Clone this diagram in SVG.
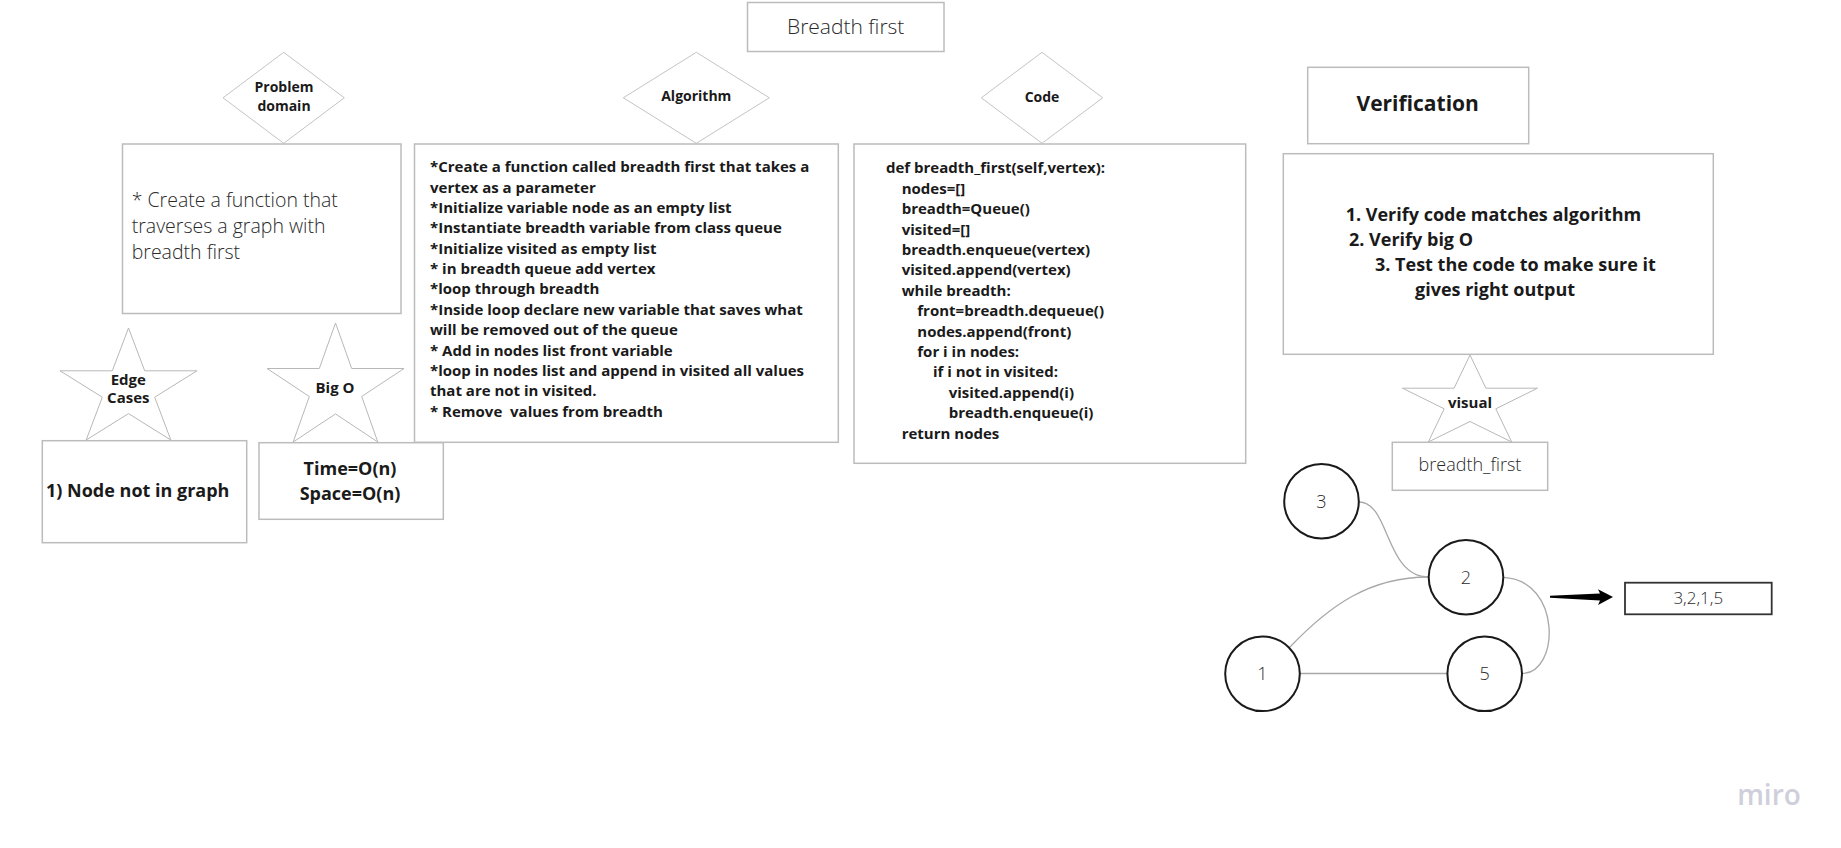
<svg xmlns="http://www.w3.org/2000/svg" width="1841" height="848" viewBox="0 0 1841 848">
<style>
  text { font-family: "Open Sans", "Noto Sans", "Liberation Sans", sans-serif; fill: #1a1a1a; }
  .box { fill: #ffffff; stroke: #bcbcbc; stroke-width: 1.5; }
  .dia { fill: #ffffff; stroke: #c4c4c4; stroke-width: 1; }
  .star { fill: #ffffff; stroke: #b8b8b8; stroke-width: 1; }
  .lbl { font-size: 14px; font-weight: 700; text-anchor: middle; }
  .slbl { font-size: 15px; font-weight: 700; text-anchor: middle; }
  .body { font-size: 15px; font-weight: 700; white-space: pre; }
  .big { font-size: 18px; font-weight: 700; }
  .light { font-weight: 300; fill: #2a2a2a; }
  .circ { fill: #ffffff; stroke: #1a1a1a; stroke-width: 2; }
  .num { font-size: 18px; font-weight: 300; fill: #2a2a2a; text-anchor: middle; }
  .edge { fill: none; stroke: #a8a8a8; stroke-width: 1.3; }
</style>
<rect width="1841" height="848" fill="#ffffff"/>

<g id="title">
  <rect class="box" x="747.5" y="2.5" width="196.5" height="49"/>
  <text class="light" x="845.7" y="33.5" font-size="21" text-anchor="middle">Breadth first</text>
</g>

<g id="problem-domain-label">
  <polygon class="dia" points="283.7,52.3 344.3,97.8 283.7,143.3 223,97.8"/>
  <text class="lbl" x="284" y="91.7">Problem</text>
  <text class="lbl" x="284" y="110.7">domain</text>
</g>
<g id="problem-domain">
  <rect class="box" x="122.5" y="144" width="278.5" height="169.5"/>
  <text class="light" font-size="19.5" x="131.7" y="207.3">* Create a function that</text>
  <text class="light" font-size="19.5" x="131.7" y="233.3">traverses a graph with</text>
  <text class="light" font-size="19.5" x="131.7" y="258.8">breadth first</text>
</g>

<g id="algorithm-label">
  <polygon class="dia" points="696.3,52.3 769.3,97.8 696.3,143.3 623.3,97.8"/>
  <text class="lbl" x="696.3" y="101">Algorithm</text>
</g>
<g id="algorithm">
  <rect class="box" x="414.5" y="144" width="423.8" height="298.3"/>
  <g class="body">
    <text x="430" y="172.3">*Create a function called breadth first that takes a</text>
    <text x="430" y="192.7">vertex as a parameter</text>
    <text x="430" y="213">*Initialize variable node as an empty list</text>
    <text x="430" y="233.4">*Instantiate breadth variable from class queue</text>
    <text x="430" y="253.7">*Initialize visited as empty list</text>
    <text x="430" y="274.1">* in breadth queue add vertex</text>
    <text x="430" y="294.4">*loop through breadth</text>
    <text x="430" y="314.8">*Inside loop declare new variable that saves what</text>
    <text x="430" y="335.1">will be removed out of the queue</text>
    <text x="430" y="355.5">* Add in nodes list front variable</text>
    <text x="430" y="375.8">*loop in nodes list and append in visited all values</text>
    <text x="430" y="396.2">that are not in visited.</text>
    <text x="430" y="416.6" style="white-space:pre">* Remove  values from breadth</text>
  </g>
</g>

<g id="code-label">
  <polygon class="dia" points="1042,52.3 1102.7,97.8 1042,143.3 981.3,97.8"/>
  <text class="lbl" x="1042" y="102">Code</text>
</g>
<g id="code">
  <rect class="box" x="854" y="144" width="391.7" height="319.3"/>
  <g class="body">
    <text x="886" y="173.3">def breadth_first(self,vertex):</text>
    <text x="901.7" y="193.7">nodes=[]</text>
    <text x="901.7" y="214.1">breadth=Queue()</text>
    <text x="901.7" y="234.5">visited=[]</text>
    <text x="901.7" y="254.9">breadth.enqueue(vertex)</text>
    <text x="901.7" y="275.3">visited.append(vertex)</text>
    <text x="901.7" y="295.7">while breadth:</text>
    <text x="917.3" y="316.1">front=breadth.dequeue()</text>
    <text x="917.3" y="336.5">nodes.append(front)</text>
    <text x="917.3" y="356.9">for i in nodes:</text>
    <text x="933" y="377.3">if i not in visited:</text>
    <text x="948.7" y="397.7">visited.append(i)</text>
    <text x="948.7" y="418.1">breadth.enqueue(i)</text>
    <text x="901.7" y="438.5">return nodes</text>
  </g>
</g>

<g id="verification-label">
  <rect class="box" x="1307.7" y="67.3" width="221" height="76.4"/>
  <text x="1417.7" y="111" font-size="21" font-weight="700" text-anchor="middle">Verification</text>
</g>
<g id="verification">
  <rect class="box" x="1283.3" y="153.7" width="430" height="200.6"/>
  <text class="big" x="1345.7" y="221">1. Verify code matches algorithm</text>
  <text class="big" x="1349" y="245.8">2. Verify big O</text>
  <text class="big" x="1375" y="271">3. Test the code to make sure it</text>
  <text class="big" x="1415" y="296">gives right output</text>
</g>

<g id="edge-cases-label">
  <polygon class="star" points="128.5,328 144.7,370.8 197,370.8 154.7,397.2 170.8,440 128.5,413.6 86.2,440 102.3,397.2 60,370.8 112.3,370.8"/>
  <text class="slbl" x="128.3" y="385">Edge</text>
  <text class="slbl" x="128.3" y="403.3">Cases</text>
</g>
<g id="edge-cases">
  <rect class="box" x="42.3" y="440.7" width="204.4" height="102"/>
  <text class="big" x="46" y="496.7">1) Node not in graph</text>
</g>

<g id="big-o-label">
  <polygon class="star" points="335.5,323 351.7,368.5 404,368.5 361.7,396.5 377.8,442 335.5,413.9 293.2,442 309.3,396.5 267,368.5 319.3,368.5"/>
  <text class="slbl" x="335" y="393.3">Big O</text>
</g>
<g id="big-o">
  <rect class="box" x="259" y="442.7" width="184.3" height="76.6"/>
  <text class="big" x="350" y="475" text-anchor="middle">Time=O(n)</text>
  <text class="big" x="350" y="500" text-anchor="middle">Space=O(n)</text>
</g>

<g id="visual-label">
  <polygon class="star" points="1470,355 1485.9,388.2 1537.5,388.2 1495.8,408.8 1511.7,442 1470,421.5 1428.3,442 1444.2,408.8 1402.5,388.2 1454.1,388.2"/>
  <text class="slbl" x="1470" y="407.7">visual</text>
</g>
<g id="visual">
  <rect class="box" x="1392.3" y="442.3" width="155.4" height="48"/>
  <text class="light" x="1470" y="471" font-size="18" text-anchor="middle">breadth_first</text>
</g>

<g id="connectors">
  <path class="edge" d="M1359,502 C1390,502 1385,577 1428.7,577"/>
  <path class="edge" d="M1290,647 C1330,605 1370,577 1428.7,577"/>
  <path class="edge" d="M1300,673.5 L1447.3,673.5" stroke-width="1.8"/>
  <path class="edge" d="M1503.3,577.3 C1562,580 1560,673.5 1522,673.5"/>
  <polygon points="1550,595.8 1600,593.6 1598,589.3 1613,597 1598,605 1600,600.6 1550,597.8" fill="#000000"/>
</g>

<g id="node-3">
  <circle class="circ" cx="1321.5" cy="501.2" r="37.3"/>
  <text class="num" x="1321.5" y="507.5">3</text>
</g>
<g id="node-2">
  <circle class="circ" cx="1466" cy="577.2" r="37.3"/>
  <text class="num" x="1466" y="583.5">2</text>
</g>
<g id="node-1">
  <circle class="circ" cx="1262.5" cy="673.8" r="37.3"/>
  <text class="num" x="1262.5" y="680">1</text>
</g>
<g id="node-5">
  <circle class="circ" cx="1484.7" cy="673.8" r="37.3"/>
  <text class="num" x="1484.7" y="680">5</text>
</g>

<g id="result">
  <rect x="1625" y="582.7" width="146.7" height="31.6" fill="#ffffff" stroke="#333333" stroke-width="1.8"/>
  <text class="light" x="1698.3" y="603.5" font-size="17" text-anchor="middle">3,2,1,5</text>
</g>

<text x="1769" y="805" font-size="28" font-weight="600" fill="#cfcfdb" style="fill:#cfcfdb" text-anchor="middle">miro</text>
</svg>
